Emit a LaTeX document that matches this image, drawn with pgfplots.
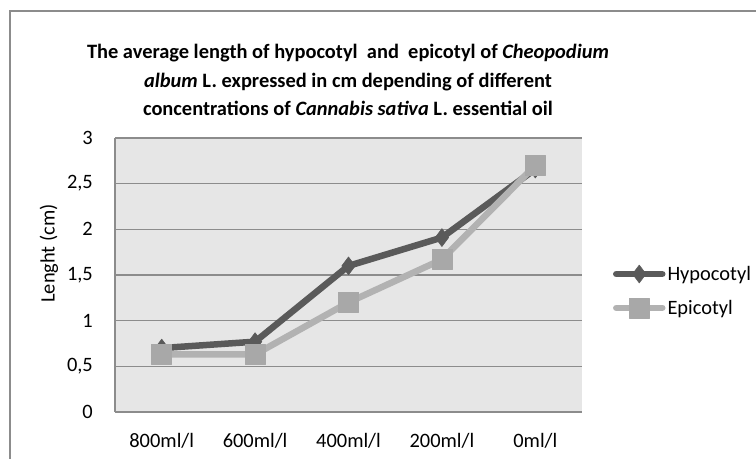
\documentclass[border=0pt]{standalone}
\usepackage{fontspec}
\setmainfont{Carlito}
\usepackage{pgfplots}
\pgfplotsset{compat=1.18}
\definecolor{hypo}{HTML}{5A5A5A}
\definecolor{epi}{HTML}{B2B2B2}
\definecolor{epimark}{HTML}{A8A8A8}
\definecolor{plotbg}{HTML}{E6E6E6}
\definecolor{gridc}{HTML}{8C8C8C}
\newcommand{\chartfont}{\fontsize{20.5}{24}\selectfont}

\begin{document}
\begin{tikzpicture}
\path[use as bounding box] (0bp,-459bp) rectangle (756bp,0bp);
% chart frame (right and bottom edges are off the picture)
\draw[gridc, line width=1.5bp] (10bp,-470bp) -- (10bp,-11bp) -- (770bp,-11bp);

% title, one node per line
\begin{scope}[every node/.style={anchor=base, inner sep=0pt, font=\fontsize{20.5}{24}\selectfont\bfseries}]
  \node at (348bp,-58bp) {The average length of hypocotyl\ \ and\ \ epicotyl of \textit{Cheopodium}};
  \node at (348bp,-87bp) {\textit{album} L. expressed in cm depending of different};
  \node at (348bp,-115bp) {concentrations of \textit{Cannabis sativa} L. essential oil};
\end{scope}
\node[rotate=90, inner sep=0pt, font=\chartfont] at (49bp,-253.5bp) {Lenght (cm)};

\begin{axis}[
  at={(115bp,-412bp)}, anchor=south west,
  scale only axis, width=467bp, height=274bp,
  xmin=-0.5, xmax=4.5, ymin=0, ymax=3,
  xtick={0,...,4},
  xticklabels={800ml/l,600ml/l,400ml/l,200ml/l,0ml/l},
  ytick={0,0.5,...,3},
  yticklabels={0,{0,5},1,{1,5},2,{2,5},3},
  axis x line*=bottom, axis y line*=left,
  axis line style={gridc, line width=1.5bp, -},
  ymajorgrids, grid style={gridc, line width=1.5bp},
  major tick length=0pt,
  axis background/.style={fill=plotbg},
  tick label style={font=\chartfont, black},
  xticklabel style={inner sep=0pt, anchor=north, yshift=-21bp},
  yticklabel style={inner sep=0pt, anchor=east, xshift=-22bp},
  clip=false,
  legend image code/.code={
    \draw[mark repeat=2, mark phase=2, #1] plot coordinates {(0bp,0bp) (23bp,0bp) (46bp,0bp)};
  },
  legend style={at={(axis description cs:1.066,0.4416)}, anchor=west,
    draw=none, fill=none, inner sep=0pt, row sep=14bp,
    font=\chartfont, nodes={inner sep=2bp}},
  legend cell align=left,
]
\addplot[hypo, line width=6.5bp, line join=round, line cap=round,
  mark=diamond*, mark size=9bp, mark options={line width=0.5bp, fill=hypo, draw=hypo}]
  coordinates {(0,0.70) (1,0.77) (2,1.60) (3,1.91) (4,2.66)};
\addlegendentry{Hypocotyl}
\addplot[epi, line width=6.5bp, line join=round, line cap=round,
  mark=square*, mark size=10bp, mark options={line width=0.5bp, fill=epimark, draw=epimark}]
  coordinates {(0,0.63) (1,0.63) (2,1.20) (3,1.67) (4,2.70)};
\addlegendentry{Epicotyl}
\end{axis}
\end{tikzpicture}
\end{document}
